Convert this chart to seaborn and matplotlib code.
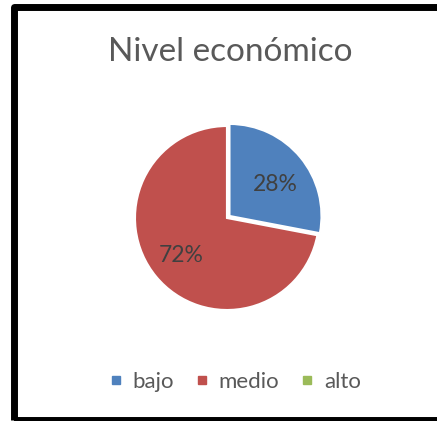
import numpy as np
import seaborn as sns
import matplotlib.pyplot as plt
from matplotlib.patches import Rectangle

niveles = ['bajo', 'medio', 'alto']
porcentajes = [28, 72, 0]
colores = ['#4F81BD', '#C0504D', '#9BBB59']

sns.set_style('white')
plt.rcParams['font.family'] = ['Lato', 'DejaVu Sans']

W, H = 437, 421
fig = plt.figure(figsize=(W / 100, H / 100), dpi=100)

# marco negro tipo Excel
marco = Rectangle((13.5 / W, 1 - 420 / H), (460 - 13.5) / W, (420 - 7) / H,
                  transform=fig.transFigure, fill=False, edgecolor='black',
                  linewidth=5.0, joinstyle='round', clip_on=False)
fig.patches.append(marco)

fig.text(230 / W, 1 - 52 / H, 'Nivel económico', ha='center', va='center',
         fontsize=24, color='#595959')

# pie
cx, cy, r = 227, 218, 92
ext = 1.15
ax = fig.add_axes([(cx - r * ext) / W, 1 - (cy + r * ext) / H,
                   2 * r * ext / W, 2 * r * ext / H])

def etiqueta(p):
    return f'{p:.0f}%' if p > 0.5 else ''

wedges, textos, autotextos = ax.pie(
    porcentajes, colors=colores, startangle=90, counterclock=False,
    explode=[0.035, 0, 0], autopct=etiqueta, pctdistance=0.64,
    wedgeprops={'edgecolor': 'white', 'linewidth': 1.5},
    textprops={'fontsize': 16.5, 'color': '#404040'})
# la etiqueta del sector azul queda algo más baja en el original
x0, y0 = autotextos[0].get_position()
autotextos[0].set_position((x0, y0 - 0.07))
ax.set_xlim(-ext, ext)
ax.set_ylim(-ext, ext)
ax.set_aspect('equal')
ax.axis('off')

handles = [plt.Line2D([], [], marker='s', linestyle='', markersize=6,
                      color=c) for c in colores]
fig.legend(handles, niveles, loc='center', bbox_to_anchor=(234 / W, 1 - 382 / H),
           ncol=3, frameon=False, fontsize=16, labelcolor='#595959',
           handletextpad=0.35, columnspacing=0.85, handlelength=0.8)

fig.savefig('out.png', dpi=100)
